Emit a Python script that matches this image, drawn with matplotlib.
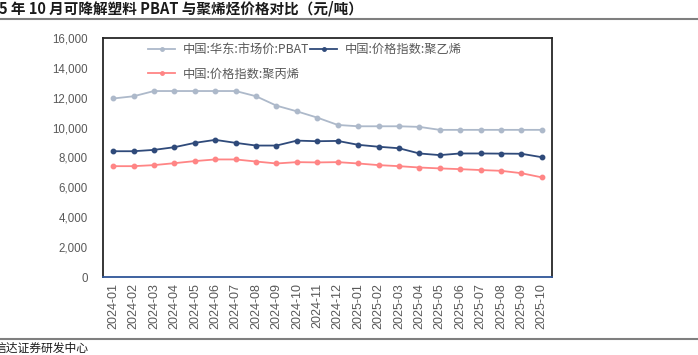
import matplotlib
matplotlib.use("Agg")
import matplotlib.pyplot as plt
from matplotlib.lines import Line2D

plt.rcParams['font.family'] = ['Noto Sans CJK SC', 'DejaVu Sans']

months = ["2024-01", "2024-02", "2024-03", "2024-04", "2024-05", "2024-06",
          "2024-07", "2024-08", "2024-09", "2024-10", "2024-11", "2024-12",
          "2025-01", "2025-02", "2025-03", "2025-04", "2025-05", "2025-06",
          "2025-07", "2025-08", "2025-09", "2025-10"]
pbat = [11950, 12100, 12450, 12450, 12450, 12450, 12450, 12100, 11470, 11090,
        10670, 10180, 10090, 10090, 10090, 10050, 9850, 9850, 9850, 9850, 9850, 9850]
pe = [8420, 8420, 8510, 8690, 8980, 9180, 8980, 8800, 8800, 9130, 9090, 9110,
      8850, 8720, 8620, 8270, 8160, 8270, 8270, 8260, 8250, 8020]
pp = [7420, 7420, 7490, 7620, 7760, 7870, 7870, 7730, 7600, 7690, 7670, 7690,
      7600, 7490, 7420, 7330, 7270, 7220, 7160, 7110, 6950, 6670]
yticks = [0, 2000, 4000, 6000, 8000, 10000, 12000, 14000, 16000]
labels = ["中国:华东:市场价:PBAT", "中国:价格指数:聚乙烯", "中国:价格指数:聚丙烯"]
title = "5 年 10 月可降解塑料 PBAT 与聚烯烃价格对比（元/吨）"
source = "信达证券研发中心"

W, H = 698, 355
fig = plt.figure(figsize=(W / 100, H / 100), dpi=100)
ax = fig.add_axes([103 / W, 1 - 277 / H, (552 - 103) / W, (277 - 38) / H])

x = list(range(len(months)))
c_pbat, c_pe, c_pp = "#adb9ca", "#2f4a7a", "#ff8585"
ax.plot(x, pbat, color=c_pbat, lw=1.3, marker="o", ms=3.2)
ax.plot(x, pe, color=c_pe, lw=1.3, marker="o", ms=3.2)
ax.plot(x, pp, color=c_pp, lw=1.3, marker="o", ms=3.2)

ax.set_xlim(-0.5, len(months) - 0.5)
ax.set_ylim(0, 16000)
ax.set_yticks(yticks)
ax.set_yticklabels([f"{v:,}" for v in yticks], fontsize=8.3, color="#595959",
                   family=['Liberation Sans', 'DejaVu Sans'])
ax.set_xticks(x)
ax.set_xticklabels(months, rotation=90, fontsize=9, color="#595959",
                   family=['Liberation Sans', 'DejaVu Sans'])
ax.tick_params(axis="both", length=0)
ax.tick_params(axis="y", pad=11)
ax.tick_params(axis="x", pad=4.5)

for side in ["left", "top", "right"]:
    ax.spines[side].set_color("#262626")
    ax.spines[side].set_linewidth(1.3)
ax.spines["bottom"].set_color("#2f5597")
ax.spines["bottom"].set_linewidth(1.3)

hd = {c: Line2D([0], [0], color=c, lw=1.3, marker="o", ms=2.5) for c in (c_pbat, c_pe, c_pp)}
leg = ax.legend([hd[c_pbat], hd[c_pp], hd[c_pe]], [labels[0], labels[2], labels[1]],
                loc="upper left", bbox_to_anchor=(0.09, 1.0), ncol=2,
                frameon=False, fontsize=8.8, handlelength=2.2, handletextpad=0.6,
                columnspacing=0.1, labelspacing=0.95, borderaxespad=0.0)
for t in leg.get_texts():
    t.set_color("#595959")

fig.text(-1 / W, 1 - 9 / H, title, fontsize=10.5, fontweight="bold",
         color="#1a1a1a", va="center", ha="left")
fig.add_artist(Line2D([0, 1], [1 - 19 / H, 1 - 19 / H], color="#7f7f7f", lw=1.5,
                      transform=fig.transFigure))
fig.add_artist(Line2D([0, 1], [1 - 339 / H, 1 - 339 / H], color="#7f7f7f", lw=1.5,
                      transform=fig.transFigure))
fig.text(-5 / W, 1 - 348 / H, source, fontsize=8.5, color="#1a1a1a",
         va="center", ha="left")

fig.savefig("out.png", dpi=100)
